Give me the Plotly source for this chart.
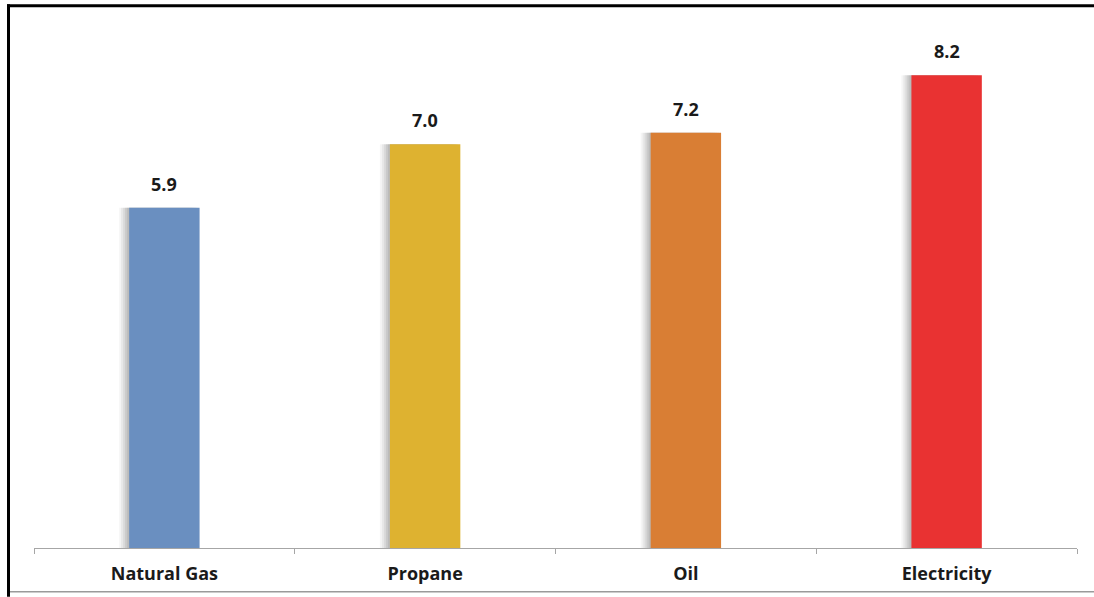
import plotly.graph_objects as go

categories = ["Natural Gas", "Propane", "Oil", "Electricity"]
values = [5.9, 7.0, 7.2, 8.2]
value_labels = ["5.9", "7.0", "7.2", "8.2"]
colors = ["#6A8FC0", "#DEB230", "#D97E34", "#E93232"]

BAR_W = 0.27
PX = 1.0 / 261.0  # one pixel in category units

fig = go.Figure()

# soft shadow on the left side of each bar (layered translucent bars)
for k, a in [(10, 0.07), (8, 0.10), (6, 0.13), (4, 0.16), (2, 0.18)]:
    fig.add_trace(go.Bar(
        x=categories, y=values, width=BAR_W,
        offset=-BAR_W / 2 - k * PX,
        marker=dict(color=f"rgba(120,120,120,{a})", line=dict(width=0)),
        hoverinfo="skip", showlegend=False,
    ))

fig.add_trace(go.Bar(
    x=categories, y=values, width=BAR_W, offset=-BAR_W / 2,
    marker=dict(color=colors, line=dict(width=0)),
    showlegend=False,
))

for c, v, t in zip(categories, values, value_labels):
    fig.add_annotation(x=c, y=v, text=f"<b>{t}</b>", showarrow=False,
                       yanchor="bottom", yshift=10,
                       font=dict(family="Open Sans", size=18, color="#1a1a1a"))

# frame lines
L, R, T, B = 34, 1077, 29, 551
def px_x(p):
    return (p - L) / (R - L)
def px_y(p):
    return (B - p) / (B - T)

fig.add_shape(type="line", xref="paper", yref="paper",
              x0=px_x(8.5), x1=px_x(8.5), y0=px_y(4), y1=px_y(600),
              line=dict(color="black", width=3))
fig.add_shape(type="line", xref="paper", yref="paper",
              x0=px_x(7), x1=px_x(1100), y0=px_y(5.5), y1=px_y(5.5),
              line=dict(color="black", width=3))
fig.add_shape(type="line", xref="paper", yref="paper",
              x0=px_x(10), x1=px_x(1100), y0=px_y(595), y1=px_y(595),
              line=dict(color="#9a9a9a", width=1.5))

fig.update_layout(
    width=1094, height=597,
    margin=dict(l=L, r=1094 - R, t=T, b=597 - B),
    barmode="overlay",
    plot_bgcolor="white", paper_bgcolor="white",
    font=dict(family="Open Sans", color="#1a1a1a"),
    xaxis=dict(
        type="category", showline=True, linecolor="#a6a6a6", linewidth=1,
        ticks="outside", tickson="boundaries", ticklen=5, tickcolor="#a6a6a6",
        tickfont=dict(family="Open Sans", size=18, color="#1a1a1a"),
        ticklabelstandoff=9, showgrid=False,
    ),
    yaxis=dict(range=[0, 9], visible=False, showgrid=False),
)
fig.update_xaxes(ticktext=[f"<b>{c}</b>" for c in categories], tickvals=categories)

fig.write_html("out.html")
